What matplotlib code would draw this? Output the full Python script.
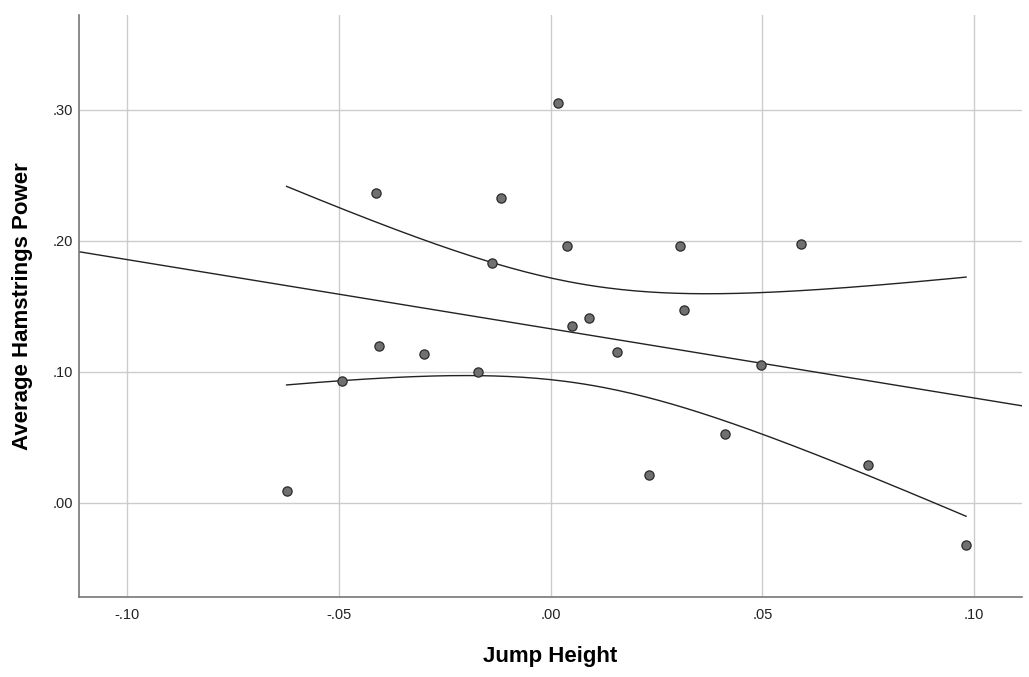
import numpy as np
import matplotlib.pyplot as plt

plt.rcParams['font.family'] = ['Liberation Sans', 'DejaVu Sans']

jump_height = [0.0018, -0.0413, -0.0117, 0.0039, 0.0305, 0.0592, -0.0138,
               0.0051, 0.0091, 0.0315, -0.0404, -0.0298, 0.0157, -0.0171,
               -0.0492, 0.0498, 0.0411, 0.0232, 0.0750, -0.0623, 0.0981]
hamstrings_power = [0.305, 0.237, 0.233, 0.196, 0.196, 0.198, 0.183,
                    0.135, 0.141, 0.147, 0.120, 0.114, 0.115, 0.100,
                    0.093, 0.105, 0.053, 0.021, 0.029, 0.009, -0.032]
x_ticks = [-0.10, -0.05, 0.00, 0.05, 0.10]
y_ticks = [0.00, 0.10, 0.20, 0.30]


def fmt(v):
    s = '%.2f' % v
    return s.replace('0.', '.', 1)


def fit_with_ci(x, y, grid, level_t=2.093):
    x = np.asarray(x)
    y = np.asarray(y)
    n = len(x)
    b, a = np.polyfit(x, y, 1)
    resid = y - (a + b * x)
    s = np.sqrt(np.sum(resid ** 2) / (n - 2))
    sxx = np.sum((x - x.mean()) ** 2)
    se = s * np.sqrt(1.0 / n + (grid - x.mean()) ** 2 / sxx)
    fit = a + b * grid
    return a, b, fit - level_t * se, fit + level_t * se


fig = plt.figure(figsize=(10.29, 6.77), dpi=100)
ax = fig.add_axes([0.0768, 0.1182, 0.9164, 0.8596])

xlim = (-0.1113, 0.1113)
ylim = (-0.0718, 0.3725)

# fitted line across the whole axis
a, b, _, _ = fit_with_ci(jump_height, hamstrings_power, np.array([0.0]))
xs = np.array(xlim)
ax.plot(xs, a + b * xs, color='#222222', lw=1.0, zorder=2)

# 95% CI of the mean, only over the data range
grid = np.linspace(min(jump_height), max(jump_height), 200)
_, _, lo, hi = fit_with_ci(jump_height, hamstrings_power, grid)
ax.plot(grid, lo, color='#222222', lw=1.0, zorder=2)
ax.plot(grid, hi, color='#222222', lw=1.0, zorder=2)

ax.scatter(jump_height, hamstrings_power, s=44, color='#707070',
           edgecolor='#2a2a2a', linewidth=0.9, zorder=3)

ax.set_xlim(*xlim)
ax.set_ylim(*ylim)
ax.set_xticks(x_ticks)
ax.set_yticks(y_ticks)
ax.set_xticklabels([fmt(v) for v in x_ticks])
ax.set_yticklabels([fmt(v) for v in y_ticks])
ax.tick_params(length=0, labelsize=10.5, colors='#222222')
ax.tick_params(axis='y', pad=4.5)
ax.tick_params(axis='x', pad=8)
ax.grid(True, color='#cccccc', lw=1.0)
ax.set_axisbelow(True)

for side in ['top', 'right']:
    ax.spines[side].set_visible(False)
for side in ['left', 'bottom']:
    ax.spines[side].set_color('#777777')
    ax.spines[side].set_linewidth(1.2)

ax.set_xlabel('Jump Height', fontsize=16, fontweight='bold', labelpad=17)
ax.set_ylabel('Average Hamstrings Power', fontsize=16, fontweight='bold',
              labelpad=14)

fig.savefig('out.png', dpi=100)
